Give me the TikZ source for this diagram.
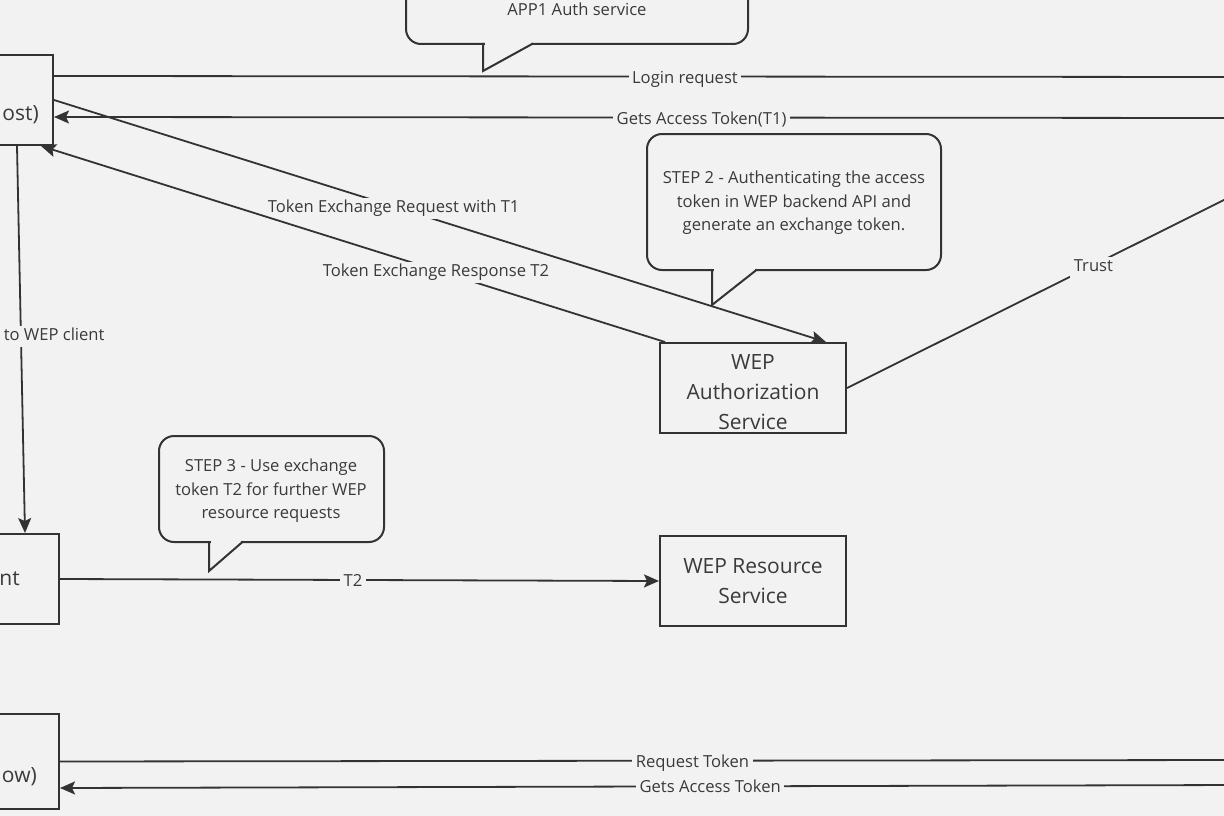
\documentclass[tikz,border=0pt]{standalone}
\usepackage{fontspec}
\setmainfont{Open Sans}
\usetikzlibrary{arrows.meta,calc}
\definecolor{bg}{HTML}{F2F2F2}
\definecolor{ink}{HTML}{333333}
\definecolor{txt}{HTML}{3A3A3A}
\begin{document}
\begin{tikzpicture}[x=1pt,y=-1pt,
  box/.style={draw=ink, line width=2pt, minimum width=186pt, minimum height=90pt, inner sep=0pt, text=txt, align=center, font=\fontsize{21}{30}\selectfont},
  conn/.style={draw=ink, line width=1.8pt},
  arr/.style={conn, -{Stealth[length=15pt,width=13pt,inset=3pt]}},
  lbl/.style={fill=bg, text=txt, inner xsep=3.5pt, inner ysep=2pt, text height=12.5pt, text depth=4.5pt, yshift=-2.5pt, font=\fontsize{16.6}{20}\selectfont},
  bubble/.style={draw=ink, line width=2pt, rounded corners=15pt, fill=bg},
  tail/.style={draw=ink, line width=2pt, line join=miter},
  btext/.style={text=txt, align=center, font=\fontsize{16.6}{23.5}\selectfont},
  cut/.style={text=txt, inner sep=0pt, font=\fontsize{21}{30}\selectfont}
]
\fill[bg] (0,0) rectangle (1224,816);
\useasboundingbox (0,0) rectangle (1224,816);
\clip (0,0) rectangle (1224,816);

% ---- boxes
\node[box] (host) at (-40,100) {};
\node[cut, anchor=east] (hosttxt) at (39,115) {ost)};
\node[box] (client) at (-34,579) {};
\node[cut, anchor=east] (clienttxt) at (20,579) {nt};
\node[box, minimum height=95pt] (flow) at (-34,761.5) {};
\node[cut, anchor=east] (flowtxt) at (37,777) {ow)};
\node[box, label={[text=txt, align=center, font=\fontsize{21}{30}\selectfont, yshift=-4pt]center:WEP\\Authorization\\Service}] (auth) at (753,388) {};
\node[box] (res) at (753,581) {WEP Resource\\Service};

% ---- off-picture ends
\coordinate (loginR) at (1240,77);
\coordinate (t1R) at (1240,118);
\coordinate (trustR) at (1240,192);
\coordinate (reqR) at (1240,760);
\coordinate (getR) at (1240,785);

% ---- bubbles
\draw[bubble] (406,-60) rectangle (748,44);
\fill[bg] (484.5,42) rectangle (531,46);
\draw[tail] (483,43) -- (483,71) -- (533,43.5);
\node[btext] (b1txt) at (577,9) {APP1 Auth service};

\draw[bubble] (647,134) rectangle (941,270);
\fill[bg] (713.5,268) rectangle (755,272);
\draw[tail] (712,269) -- (712,305) -- (757,269.5);
\node[btext] (b2txt) at (794,203) {STEP 2 - Authenticating the access\\token in WEP backend API and\\generate an exchange token.};

\draw[bubble] (159,436) rectangle (384,542);
\fill[bg] (210.5,540) rectangle (241,544);
\draw[tail] (209,541) -- (209,571) -- (243,541.5);
\node[btext] (b3txt) at (271,491) {STEP 3 - Use exchange\\token T2 for further WEP\\resource requests};

% ---- connectors
\draw[conn] ($(host.east)+(0,-24)$) -- node[lbl, pos=0.532] {Login request} (loginR);
\draw[arr] (t1R) -- node[lbl, pos=0.454] {Gets Access Token(T1)} ($(host.east)+(0,17)$);
\draw[arr] (host.east) -- node[lbl, pos=0.44] {Token Exchange Request with T1} ($(auth.north)+(73,0)$);
\draw[arr] ($(auth.north west)+(6,0)$) -- node[lbl, pos=0.367] {Token Exchange Response T2} ($(host.south east)+(-13,0)$);
\draw[arr] ($(host.south)+(57,0)$) -- node[lbl, pos=0.486, anchor=west, xshift=-21.5pt] {to WEP client} ($(client.north)+(59,0)$);
\draw[arr] (client.east) -- node[lbl, pos=0.489] {T2} (res.west);
\draw[conn] (auth.east) -- node[lbl, pos=0.627] {Trust} (trustR);
\draw[conn] (flow.east) -- node[lbl, pos=0.536] {Request Token} (reqR);
\draw[arr] (getR) -- node[lbl, pos=0.449] {Gets Access Token} ($(flow.east)+(0,26.5)$);
\end{tikzpicture}
\end{document}
